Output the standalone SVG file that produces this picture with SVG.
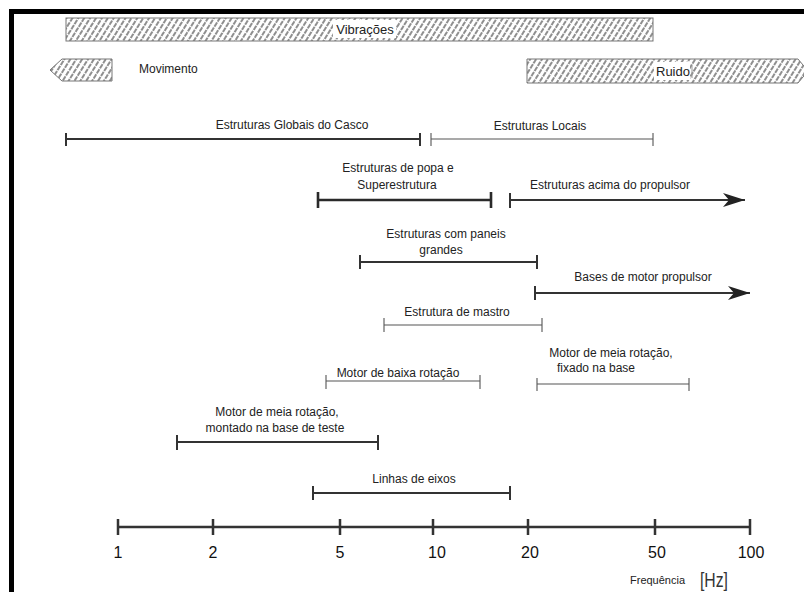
<svg xmlns="http://www.w3.org/2000/svg" width="804" height="592" viewBox="0 0 804 592">
<defs>
<pattern id="hatch" width="5" height="6" patternUnits="userSpaceOnUse" patternTransform="rotate(32)">
<rect width="5" height="6" fill="#fff"/>
<line x1="1" y1="0" x2="1" y2="6" stroke="#444" stroke-width="1.2" stroke-dasharray="5 1"/>
</pattern>
<marker id="arr" viewBox="0 0 22 14" refX="22" refY="7" markerWidth="22" markerHeight="14" markerUnits="userSpaceOnUse" orient="auto">
<path d="M0,0 L22,7 L0,14 L6,7 Z" fill="#222"/>
</marker>
</defs>
<style>
text{font-family:"Liberation Sans",Arial,sans-serif;fill:#222;font-size:12px}
.mid{text-anchor:middle}
.thick{stroke:#2a2a2a;stroke-width:2.6;fill:none}
.med{stroke:#333;stroke-width:2;fill:none}
.thin{stroke:#555;stroke-width:1.1;fill:none}
.band{fill:url(#hatch);stroke:#777;stroke-width:1}
.tick{font-size:16px;text-anchor:middle;fill:#111}
</style>
<rect x="0" y="0" width="804" height="592" fill="#fff"/>
<rect x="11.5" y="11.5" width="800" height="590" fill="none" stroke="#000" stroke-width="5"/>

<g id="vibracoes">
<rect class="band" x="66" y="18" width="587" height="23"/>
<rect x="333" y="20" width="63" height="18" fill="#fff"/>
<text class="mid" x="365" y="34" style="font-size:13px">Vibrações</text>
</g>
<g id="movimento">
<polygon class="band" points="112,59 62,59 50,70 62,81 112,81"/>
<text x="139" y="73">Movimento</text>
</g>
<g id="ruido">
<polygon class="band" points="527,59 798,59 808,71 798,83 527,83"/>
<rect x="654" y="62" width="36" height="18" fill="#fff"/>
<text x="656" y="76" style="font-size:13px">Ruido</text>
<line x1="692" y1="66" x2="692" y2="78" stroke="#999" stroke-width="1"/>
</g>

<g id="connectors">
<g class="med"><path d="M66,139 H420 M66,133 V146 M420,133 V146"/></g>
<g class="thin"><path d="M431,139 H653 M431,133 V146 M653,133 V146"/></g>
<g class="thick"><path d="M318,200 H491 M318,192 V208 M491,192 V208"/></g>
<g class="med"><path d="M510,193 V208"/><path d="M510,200 H745" marker-end="url(#arr)"/></g>
<g class="med"><path d="M360,262 H537 M360,255 V269 M537,255 V269"/></g>
<g class="med"><path d="M535,286 V300"/><path d="M535,293 H750" marker-end="url(#arr)"/></g>
<g class="thin"><path d="M384,325 H542 M384,318 V332 M542,318 V332"/></g>
<g class="thin"><path d="M326,381 H480 M326,375 V389 M480,375 V389"/></g>
<g class="thin"><path d="M537,384 H689 M537,378 V391 M689,378 V391"/></g>
<g class="med"><path d="M177,442 H378 M177,435 V450 M378,435 V450"/></g>
<g class="med"><path d="M313,493 H510 M313,486 V500 M510,486 V500"/></g>
<g class="med" style="stroke-width:2.5"><path d="M118,527 H750 M118,519 V535 M213,519 V535 M340,519 V535 M433,519 V535 M528,519 V535 M655,519 V535 M750,519 V535"/></g>
</g>

<g id="n-globais"><text class="mid" x="292" y="129">Estruturas Globais do Casco</text></g>
<g id="n-locais"><text class="mid" x="540" y="130">Estruturas Locais</text></g>
<g id="n-popa"><text class="mid" x="398" y="172">Estruturas de popa e</text><text class="mid" x="397" y="189">Superestrutura</text></g>
<g id="n-acima"><text class="mid" x="610" y="189">Estruturas acima do propulsor</text></g>
<g id="n-paneis"><text class="mid" x="446" y="238">Estruturas com paneis</text><text class="mid" x="441" y="254">grandes</text></g>
<g id="n-bases"><text class="mid" x="643" y="281">Bases de motor propulsor</text></g>
<g id="n-mastro"><text class="mid" x="457" y="316">Estrutura de mastro</text></g>
<g id="n-baixa"><text class="mid" x="398" y="377">Motor de baixa rotação</text></g>
<g id="n-fixado"><text class="mid" x="611" y="357">Motor de meia rotação,</text><text class="mid" x="596" y="372">fixado na base</text></g>
<g id="n-montado"><text class="mid" x="277" y="416">Motor de meia rotação,</text><text class="mid" x="275" y="432">montado na base de teste</text></g>
<g id="n-eixos"><text class="mid" x="414" y="483">Linhas de eixos</text></g>

<g id="axis-labels">
<text class="tick" x="118" y="558">1</text>
<text class="tick" x="213" y="558">2</text>
<text class="tick" x="340" y="558">5</text>
<text class="tick" x="437" y="558">10</text>
<text class="tick" x="530" y="558">20</text>
<text class="tick" x="657" y="558">50</text>
<text class="tick" x="751" y="558">100</text>
<text x="630" y="584" style="font-size:11px">Frequência</text>
<text x="700" y="587" style="font-size:21px;fill:#333" textLength="28" lengthAdjust="spacingAndGlyphs">[Hz]</text>
</g>
</svg>
